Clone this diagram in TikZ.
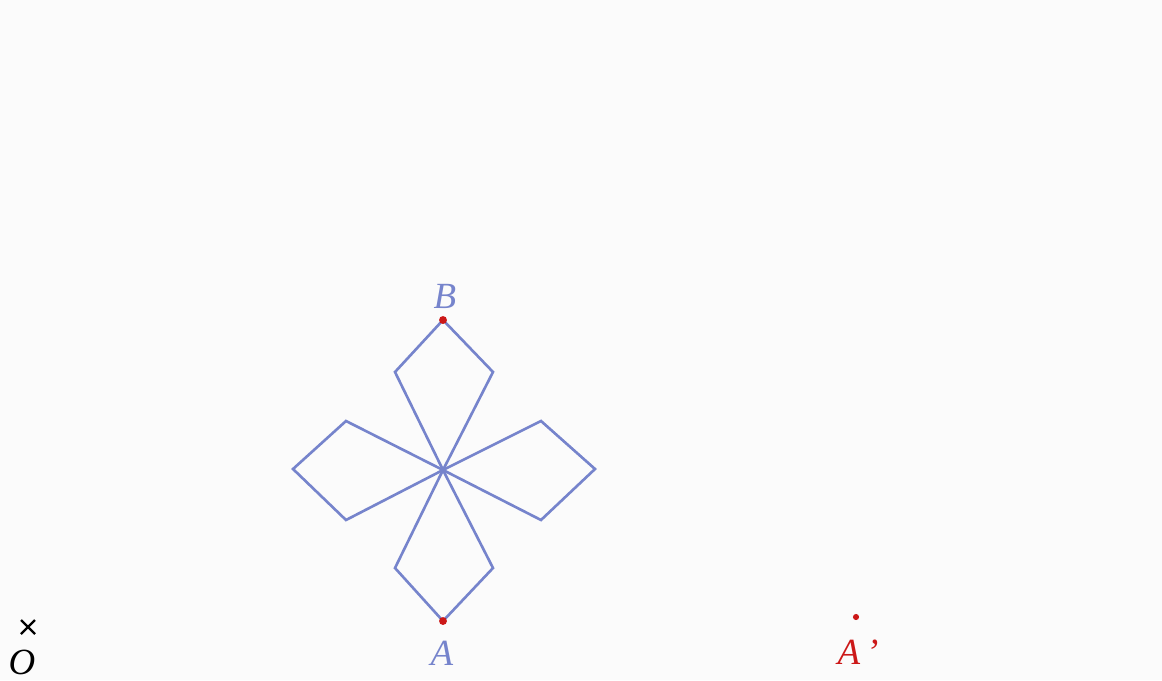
\documentclass[tikz,border=0pt]{standalone}
\usepackage{fontspec}
\setmainfont{Liberation Serif}
\usetikzlibrary{calc}
\definecolor{petal}{RGB}{118,132,204}
\definecolor{ptred}{RGB}{204,24,24}
\definecolor{bg}{RGB}{251,251,251}
\tikzset{
  petalline/.style={draw=petal, line width=1.5pt, line join=miter},
  reddot/.style={circle, fill=ptred, inner sep=0pt, minimum size=4.5pt},
  lbl/.style={font=\fontsize{21}{24}\selectfont\itshape, inner sep=0pt},
}
\begin{document}
\begin{tikzpicture}[x=0.02cm,y=-0.02cm]
\fill[bg] (0,0) rectangle (1162,680);
\useasboundingbox (0,0) rectangle (1162,680);
\coordinate (C) at (443,470);
\coordinate (B) at (443,320);
\coordinate (A) at (443,621);
\coordinate (L) at (293,469);
\coordinate (R) at (595,469);
% petals
\draw[petalline] (C) -- (395,372) -- (B) -- (493,372) -- cycle;
\draw[petalline] (C) -- (395,568) -- (A) -- (493,568) -- cycle;
\draw[petalline] (C) -- (346,421) -- (L) -- (346,520) -- cycle;
\draw[petalline] (C) -- (541,421) -- (R) -- (541,520) -- cycle;
% points
\node[reddot] (Bd) at (B) {};
\node[reddot] (Ad) at (A) {};
\node[reddot, minimum size=3.5pt] (Apd) at (856,617) {};
\node[lbl, text=petal] (Bl) at (445,296) {B};
\node[lbl, text=petal] (Al) at (442,653) {A};
\node[lbl, text=ptred] (Apl) at (858,652) {A\,’};
% O
\coordinate (O) at (28,627);
\draw[black, line width=1.3pt] ($(O)+(-7,-7)$) -- ($(O)+(7,7)$) ($(O)+(-7,7)$) -- ($(O)+(7,-7)$);
\node[lbl, text=black] (Ol) at (22,662) {O};
\end{tikzpicture}
\end{document}
